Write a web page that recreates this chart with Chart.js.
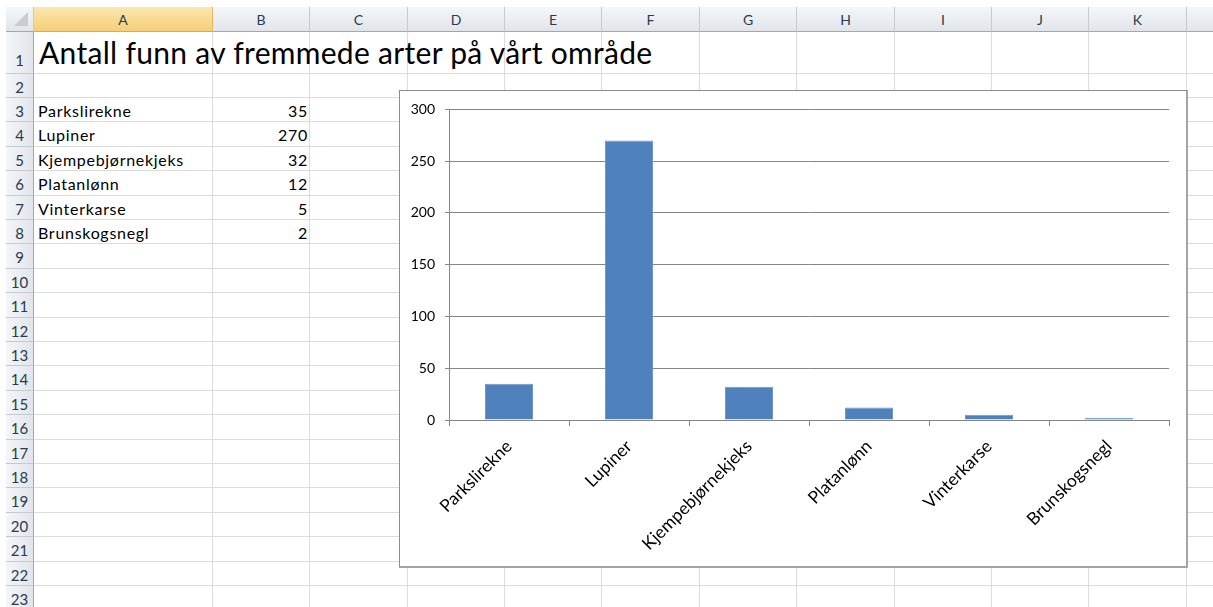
<!DOCTYPE html>
<html>
<head>
<meta charset="utf-8">
<script src="https://cdn.jsdelivr.net/npm/chart.js@4/dist/chart.umd.min.js"></script>
<style>
  body { margin:0; width:1213px; height:607px; overflow:hidden; background:#fff; font-family:Lato, "Open Sans", sans-serif; position:relative; }
  .v { position:absolute; width:1px; background:#dadcdd; }
  .h { position:absolute; height:1px; background:#dadcdd; }
  .ch { position:absolute; top:7px; height:24px; background:linear-gradient(#f4f6f9,#e1e5ea); border-right:1px solid #c5cad1; border-bottom:1px solid #9fa7b2; color:#2e3a4a; font-size:14px; text-align:center; line-height:25px; box-sizing:content-box; }
  .ch.sel { background:linear-gradient(#fbe7b1,#f6cf76); border-bottom:1px solid #e6a73d; border-right:1px solid #e8b65c; }
  .rh { position:absolute; left:6px; width:27px; background:linear-gradient(90deg,#f4f6f9,#e1e5ea); border-right:1px solid #9fa7b2; border-bottom:1px solid #c5cad1; color:#2e3a4a; font-size:15px; text-align:center; }
  .cell { position:absolute; font-size:16px; letter-spacing:0.7px; color:#000; white-space:nowrap; }
  #title { position:absolute; left:39px; top:34px; font-size:30px; letter-spacing:0.3px; color:#000; white-space:nowrap; }
  #box { position:absolute; left:399px; top:90px; width:786px; height:475px; background:#fff; border:1px solid #8c8c8c; border-right:2px solid #a4a4a4; border-bottom:2px solid #a4a4a4; }
</style>
</head>
<body>
<div id="sheet"></div>
<div id="title">Antall funn av fremmede arter på vårt område</div>
<div id="box"><canvas id="c" width="786" height="475"></canvas></div>
<script>
const categories = ["Parkslirekne", "Lupiner", "Kjempebjørnekjeks", "Platanlønn", "Vinterkarse", "Brunskogsnegl"];
const values = [35, 270, 32, 12, 5, 2];
const yMax = 300;
const yStep = 50;

// regneark-rutenett
const colEdges = [34,213,310,408,505,602,700,797,895,992,1089,1187,1284];
const colNames = "ABCDEFGHIJKL";
function rowTop(r){ if (r===1) return 32; if (r===2) return 74; return Math.round(98 + (r-3)*24.4); }

const sheet = document.getElementById("sheet");
let html = `<div class="ch" style="left:6px;width:27px;"><svg width="27" height="24"><polygon points="22,5 22,19 8,19" fill="#c8ccd2"/></svg></div>`;
for (let i=0;i<colEdges.length-1;i++){
  const l = colEdges[i], w = colEdges[i+1]-l-1;
  html += `<div class="ch${i===0?" sel":""}" style="left:${l}px;width:${w}px;">${colNames[i]}</div>`;
  html += `<div class="v" style="left:${colEdges[i+1]-1}px;top:32px;height:575px;"></div>`;
}
for (let r=1;r<=24;r++){
  const t = rowTop(r), b = rowTop(r+1);
  html += `<div class="rh" style="top:${t}px;height:${b-t-1}px;line-height:${r===1?b-t+14:b-t+2}px;">${r}</div>`;
  html += `<div class="h" style="left:34px;top:${b-1}px;width:1179px;"></div>`;
}
categories.forEach((c,i)=>{
  const t = rowTop(i+3);
  html += `<div class="cell" style="left:38px;top:${t}px;line-height:25px;">${c}</div>`;
  html += `<div class="cell" style="left:213px;width:95px;text-align:right;top:${t}px;line-height:25px;">${values[i]}</div>`;
});
sheet.innerHTML = html;

// diagram
const axisGrey = "#868686";
new Chart(document.getElementById("c"), {
  type: "bar",
  data: {
    labels: categories,
    datasets: [{
      data: values,
      backgroundColor: "#4f81bd",
      borderColor: "#6e98cb",
      borderWidth: 1,
      categoryPercentage: 1,
      barPercentage: 0.4
    }]
  },
  options: {
    responsive: false,
    devicePixelRatio: 1,
    animation: false,
    layout: { padding: { top: 17, right: 17, left: 0, bottom: 0 } },
    plugins: { legend: { display: false }, tooltip: { enabled: false } },
    scales: {
      x: {
        grid: { display: true, drawOnChartArea: false, drawTicks: true, tickLength: 6, color: axisGrey, offset: true },
        border: { display: true, color: axisGrey, width: 1 },
        ticks: { minRotation: 45, maxRotation: 45, padding: 10, color: "#000", font: { family: "Lato", size: 17.5 } },
        afterFit: s => { s.height = 146; }
      },
      y: {
        min: 0, max: yMax,
        grid: { color: axisGrey, tickLength: 4, drawTicks: true },
        border: { display: true, color: axisGrey },
        ticks: { stepSize: yStep, padding: 10, color: "#000", font: { family: "Lato", size: 14 } },
        afterFit: s => { s.width = 49; }
      }
    }
  }
});
</script>
</body>
</html>
